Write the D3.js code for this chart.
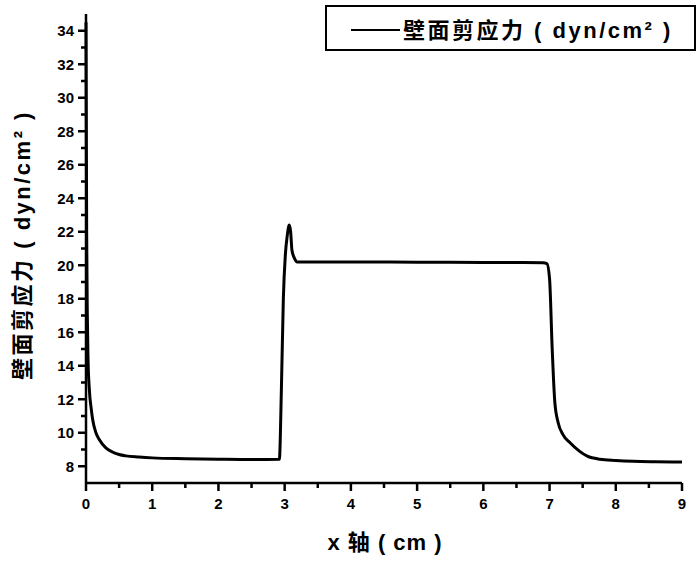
<!DOCTYPE html>
<html><head><meta charset="utf-8">
<script src="https://cdn.jsdelivr.net/npm/d3@7"></script>
<style>
html,body{margin:0;padding:0;background:#fff;}
svg{display:block;}
text{font-family:"Liberation Sans",Arial,sans-serif;font-weight:bold;fill:#000;}
.cjk{font-family:"Liberation Sans","Noto Sans CJK SC",sans-serif;font-weight:bold;}
</style>
</head><body>
<script>
// Data
const xValues = [0, 0.005, 0.01, 0.02, 0.03, 0.05, 0.08, 0.1, 0.15, 0.2, 0.3, 0.4, 0.5, 0.6, 0.8, 1.0, 1.5, 2.0, 2.5, 2.92,
  2.95, 2.98, 3.01, 3.04, 3.07, 3.09, 3.11, 3.15, 3.19, 3.5, 4.0, 5.0, 6.0, 6.9, 6.96, 7.0, 7.04, 7.08, 7.13, 7.2, 7.31, 7.45, 7.57, 7.76, 8.0, 8.26, 8.6, 9.0];
const stressValues = [34.5, 28, 22, 17, 14.5, 12.6, 11.4, 10.8, 10.0, 9.6, 9.1, 8.85, 8.7, 8.62, 8.55, 8.5, 8.45, 8.42, 8.4, 8.42,
  12.5, 18.0, 20.6, 21.8, 22.4, 22.0, 20.9, 20.4, 20.2, 20.2, 20.2, 20.18, 20.17, 20.15, 20.1, 19.2, 15.0, 11.8, 10.6, 9.9, 9.4, 8.9, 8.6, 8.42, 8.35, 8.3, 8.27, 8.25];
const xTicks = [0,1,2,3,4,5,6,7,8,9];
const yTicks = [8,10,12,14,16,18,20,22,24,26,28,30,32,34];
const seriesName = "壁面剪应力 ( dyn/cm² )";
const xTitle = "x 轴 ( cm )";
const yTitle = "壁面剪应力 ( dyn/cm² )";

const W = 697, H = 562;
const svg = d3.select("body").append("svg").attr("width", W).attr("height", H);
const x = d3.scaleLinear().domain([0, 9]).range([86, 682]);
const y = d3.scaleLinear().domain([7, 35]).range([483, 14]);

// minor ticks
const xMinor = d3.range(0.5, 9, 1);
const yMinor = d3.range(9, 35, 2);

const gx = svg.append("g").attr("transform", `translate(0,${y(7)})`);
gx.append("line").attr("x1", x(0)).attr("x2", x(9)).attr("stroke", "#000").attr("stroke-width", 2.5);
gx.selectAll("line.maj").data(xTicks).join("line").attr("class","maj")
  .attr("x1", d => x(d)).attr("x2", d => x(d)).attr("y1", 0).attr("y2", 8)
  .attr("stroke", "#000").attr("stroke-width", 2.5);
gx.selectAll("line.min").data(xMinor).join("line").attr("class","min")
  .attr("x1", d => x(d)).attr("x2", d => x(d)).attr("y1", 0).attr("y2", 5)
  .attr("stroke", "#000").attr("stroke-width", 2.5);
gx.selectAll("text").data(xTicks).join("text")
  .attr("x", d => x(d)).attr("y", 26).attr("text-anchor", "middle")
  .attr("font-size", 15).text(d => d);

const gy = svg.append("g").attr("transform", `translate(${x(0)},0)`);
gy.append("line").attr("y1", y(7)).attr("y2", y(35)).attr("stroke", "#000").attr("stroke-width", 2.5);
gy.selectAll("line.maj").data(yTicks).join("line").attr("class","maj")
  .attr("y1", d => y(d)).attr("y2", d => y(d)).attr("x1", 0).attr("x2", -8)
  .attr("stroke", "#000").attr("stroke-width", 2.5);
gy.selectAll("line.min").data(yMinor).join("line").attr("class","min")
  .attr("y1", d => y(d)).attr("y2", d => y(d)).attr("x1", 0).attr("x2", -5)
  .attr("stroke", "#000").attr("stroke-width", 2.5);
gy.selectAll("text").data(yTicks).join("text")
  .attr("x", -12).attr("y", d => y(d)).attr("dy", "0.36em").attr("text-anchor", "end")
  .attr("font-size", 15).text(d => d);

// curve
const line = d3.line().x((d, i) => x(xValues[i])).y(d => y(d)).curve(d3.curveMonotoneX);
svg.append("path").datum(stressValues).attr("d", line)
  .attr("fill", "none").attr("stroke", "#000").attr("stroke-width", 3).attr("stroke-linejoin", "round");

// axis titles
svg.append("text").attr("class", "cjk").attr("x", (x(0) + x(9)) / 2 + 1).attr("y", 550)
  .attr("text-anchor", "middle").attr("font-size", 22).attr("letter-spacing", 1).text(xTitle);
svg.append("text").attr("class", "cjk")
  .attr("transform", `translate(30,245) rotate(-90)`)
  .attr("text-anchor", "middle").attr("font-size", 22).attr("letter-spacing", 2.5).text(yTitle);

// legend
const lg = svg.append("g");
lg.append("rect").attr("x", 326).attr("y", 6).attr("width", 369).attr("height", 44)
  .attr("fill", "#fff").attr("stroke", "#000").attr("stroke-width", 2);
lg.append("line").attr("x1", 351).attr("x2", 400).attr("y1", 30).attr("y2", 30)
  .attr("stroke", "#000").attr("stroke-width", 2);
lg.append("text").attr("class", "cjk").attr("x", 403).attr("y", 30).attr("dy", "0.36em")
  .attr("font-size", 22).attr("letter-spacing", 2.5).text(seriesName);
</script>
</body></html>
